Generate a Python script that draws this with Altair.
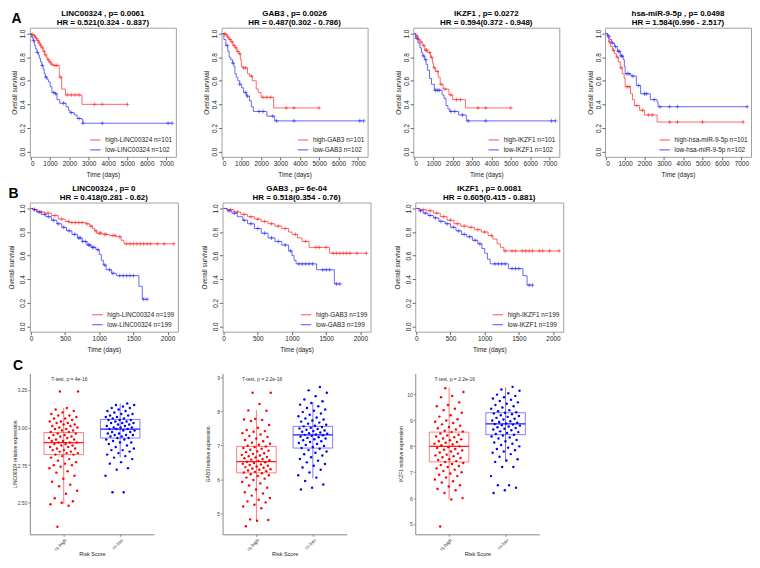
import altair as alt
import pandas as pd
import numpy as np

FONT = "Liberation Sans"
RED = "#FF2424"
BLUE = "#2424FF"

# ---------------- Row A : TCGA-like survival (0-7300 days) ----------------
A1_gene, A1_p, A1_hr = "LINC00324", "0.0061", "0.521(0.324 - 0.837)"
A1_hi_t = [0, 60, 150, 250, 330, 420, 500, 560, 640, 720, 800, 880, 950, 1050, 1150, 1480, 1600, 1800, 2650]
A1_hi_s = [1.0, 0.99, 0.98, 0.96, 0.94, 0.92, 0.90, 0.88, 0.85, 0.82, 0.80, 0.78, 0.76, 0.74, 0.73, 0.63, 0.53, 0.48, 0.40]
A1_hi_end = 5000
A1_hi_c = [100, 200, 300, 380, 450, 520, 600, 700, 780, 900, 1000, 1100, 1250, 1350, 1550, 1900, 2100, 2300, 2500, 3300, 3700, 5000]
A1_lo_t = [0, 50, 120, 200, 260, 330, 400, 450, 510, 580, 640, 700, 760, 850, 920, 1010, 1100, 1250, 1360, 1500, 1830, 1950, 2030, 2250, 2400, 2650, 2700]
A1_lo_s = [1.0, 0.97, 0.94, 0.90, 0.87, 0.84, 0.82, 0.79, 0.76, 0.73, 0.70, 0.66, 0.63, 0.61, 0.59, 0.55, 0.50, 0.49, 0.44, 0.41, 0.38, 0.35, 0.33, 0.31, 0.28, 0.27, 0.24]
A1_lo_end = 7300
A1_lo_c = [150, 350, 600, 800, 1200, 1300, 1700, 2100, 2500, 2700, 3700, 7100, 7300]

A2_gene, A2_p, A2_hr = "GAB3", "0.0026", "0.487(0.302 - 0.786)"
A2_hi_t = [0, 150, 250, 350, 450, 550, 650, 750, 850, 930, 980, 1050, 1300, 1400, 1550, 1750, 1850, 2000, 2650]
A2_hi_s = [1.0, 0.99, 0.97, 0.95, 0.93, 0.90, 0.88, 0.85, 0.83, 0.78, 0.72, 0.71, 0.66, 0.64, 0.60, 0.53, 0.50, 0.46, 0.37]
A2_hi_end = 5000
A2_hi_c = [100, 200, 300, 400, 500, 600, 700, 800, 900, 1100, 1200, 1500, 2100, 2300, 2500, 3300, 3700, 5000]
A2_lo_t = [0, 80, 180, 280, 350, 430, 520, 600, 650, 720, 800, 900, 1000, 1100, 1250, 1400, 1500, 1600, 2300, 2700]
A2_lo_s = [1.0, 0.95, 0.90, 0.85, 0.80, 0.78, 0.75, 0.72, 0.66, 0.63, 0.60, 0.57, 0.54, 0.50, 0.47, 0.43, 0.38, 0.34, 0.30, 0.26]
A2_lo_end = 7300
A2_lo_c = [250, 550, 900, 1200, 1300, 1900, 2100, 2600, 2800, 3700, 7100, 7300]

A3_gene, A3_p, A3_hr = "IKZF1", "0.0272", "0.594(0.372 - 0.948)"
A3_hi_t = [0, 100, 200, 300, 420, 550, 700, 850, 950, 1000, 1100, 1250, 1350, 1500, 1800, 2000, 2650]
A3_hi_s = [1.0, 0.98, 0.95, 0.93, 0.90, 0.86, 0.84, 0.80, 0.75, 0.71, 0.68, 0.63, 0.57, 0.53, 0.48, 0.44, 0.37]
A3_hi_end = 5000
A3_hi_c = [150, 250, 350, 500, 600, 650, 800, 900, 1050, 1200, 1400, 1600, 1900, 2200, 2400, 3300, 3700, 5000]
A3_lo_t = [0, 80, 200, 300, 380, 450, 550, 620, 700, 800, 900, 1050, 1450, 1550, 1650, 1750, 1850, 2300, 2700]
A3_lo_s = [1.0, 0.96, 0.92, 0.88, 0.84, 0.81, 0.78, 0.74, 0.69, 0.62, 0.57, 0.52, 0.48, 0.45, 0.39, 0.36, 0.34, 0.31, 0.26]
A3_lo_end = 7300
A3_lo_c = [150, 500, 600, 1100, 1200, 1300, 1900, 2100, 2500, 2800, 3700, 7100, 7300]

A4_gene, A4_p, A4_hr = "hsa-miR-9-5p", "0.0498", "1.584(0.996 - 2.517)"
A4_hi_t = [0, 80, 150, 250, 350, 450, 550, 650, 750, 850, 950, 1000, 1280, 1380, 1480, 1750, 2000, 2650]
A4_hi_s = [1.0, 0.97, 0.93, 0.89, 0.86, 0.83, 0.80, 0.76, 0.71, 0.66, 0.62, 0.55, 0.49, 0.44, 0.39, 0.35, 0.31, 0.25]
A4_hi_end = 7100
A4_hi_c = [200, 400, 600, 800, 1100, 1200, 1600, 1900, 2200, 2400, 3300, 3700, 5000, 7100]
A4_lo_t = [0, 100, 200, 300, 450, 600, 750, 900, 960, 1000, 1300, 1580, 1800, 2300, 2650, 2700]
A4_lo_s = [1.0, 0.98, 0.95, 0.92, 0.89, 0.85, 0.81, 0.78, 0.72, 0.66, 0.64, 0.56, 0.49, 0.44, 0.42, 0.38]
A4_lo_end = 7300
A4_lo_c = [150, 350, 500, 650, 700, 800, 850, 1100, 1200, 1400, 1700, 2000, 2100, 2500, 2800, 3300, 3700, 7300]

A_n_hi, A_n_lo = 101, 102
A_xticks = [0, 1000, 2000, 3000, 4000, 5000, 6000, 7000]

# ---------------- Row B : validation cohort (0-2100 days) ----------------
B1_gene, B1_p, B1_hr = "LINC00324", "0", "0.418(0.281 - 0.62)"
B1_hi_t = [0, 30, 100, 200, 300, 400, 500, 560, 800, 860, 900, 930, 960, 1050, 1150, 1250, 1320, 1360]
B1_hi_s = [1.0, 0.99, 0.97, 0.96, 0.94, 0.91, 0.89, 0.88, 0.87, 0.85, 0.83, 0.81, 0.79, 0.78, 0.77, 0.76, 0.73, 0.70]
B1_hi_end = 2090
B1_hi_c = [50, 150, 250, 350, 450, 550, 600, 650, 700, 750, 820, 880, 950, 1000, 1020, 1080, 1100, 1200, 1230, 1300,
           1400, 1450, 1500, 1550, 1600, 1650, 1700, 1750, 1850, 1950, 2090]
B1_lo_t = [0, 30, 80, 150, 220, 300, 380, 450, 520, 600, 680, 750, 820, 880, 950, 1000, 1030, 1060, 1100, 1180, 1250, 1580, 1630]
B1_lo_s = [1.0, 0.99, 0.97, 0.95, 0.93, 0.90, 0.87, 0.84, 0.81, 0.78, 0.75, 0.72, 0.69, 0.67, 0.65, 0.61, 0.56, 0.52, 0.48, 0.45, 0.43, 0.34, 0.23]
B1_lo_end = 1700
B1_lo_c = [50, 120, 200, 260, 330, 400, 480, 560, 640, 700, 720, 760, 800, 840, 860, 900, 920, 980, 1080, 1150,
           1200, 1300, 1350, 1400, 1450, 1500, 1650, 1700]

B2_gene, B2_p, B2_hr = "GAB3", "6e-04", "0.518(0.354 - 0.76)"
B2_hi_t = [0, 50, 150, 250, 350, 450, 550, 650, 750, 850, 950, 1000, 1080, 1150, 1250, 1550]
B2_hi_s = [1.0, 0.99, 0.97, 0.95, 0.93, 0.91, 0.89, 0.87, 0.85, 0.83, 0.80, 0.78, 0.75, 0.72, 0.67, 0.62]
B2_hi_end = 2090
B2_hi_c = [100, 200, 300, 400, 500, 600, 700, 800, 900, 1050, 1200, 1350, 1400, 1500, 1600, 1650, 1700, 1750, 1800,
           1850, 1950, 2090]
B2_lo_t = [0, 50, 120, 200, 280, 350, 450, 550, 650, 750, 850, 950, 1000, 1030, 1060, 1360, 1620]
B2_lo_s = [1.0, 0.98, 0.96, 0.93, 0.90, 0.87, 0.83, 0.79, 0.75, 0.72, 0.69, 0.64, 0.60, 0.56, 0.53, 0.48, 0.36]
B2_lo_end = 1700
B2_lo_c = [80, 160, 300, 400, 500, 600, 700, 800, 900, 980, 1100, 1150, 1200, 1250, 1300, 1450, 1500, 1550, 1650, 1700]

B3_gene, B3_p, B3_hr = "IKZF1", "0.0081", "0.605(0.415 - 0.881)"
B3_hi_t = [0, 50, 150, 250, 350, 450, 550, 650, 750, 850, 950, 1050, 1120, 1180, 1230, 1280]
B3_hi_s = [1.0, 0.99, 0.98, 0.96, 0.93, 0.90, 0.87, 0.85, 0.84, 0.82, 0.80, 0.77, 0.74, 0.70, 0.67, 0.64]
B3_hi_end = 2090
B3_hi_c = [100, 200, 300, 400, 500, 600, 700, 800, 900, 1000, 1100, 1300, 1400, 1450, 1550, 1600, 1650, 1700, 1800,
           1850, 1950, 2090]
B3_lo_t = [0, 40, 100, 170, 250, 330, 420, 500, 580, 660, 740, 820, 900, 960, 1000, 1040, 1080, 1350, 1560, 1620]
B3_lo_s = [1.0, 0.98, 0.96, 0.94, 0.92, 0.89, 0.87, 0.84, 0.81, 0.78, 0.76, 0.73, 0.70, 0.66, 0.62, 0.57, 0.53, 0.49, 0.43, 0.35]
B3_lo_end = 1700
B3_lo_c = [60, 130, 200, 280, 360, 450, 540, 620, 700, 780, 860, 930, 1150, 1200, 1250, 1300, 1400, 1450, 1500, 1650, 1700]

B_n_hi, B_n_lo = 199, 199
B_xticks = [0, 500, 1000, 1500, 2000]

# ---------------- Row C : expression by risk group ----------------
C_groups = ["rs-high", "rs-low"]

C1_gene, C1_ptxt = "LINC00324", "T-test, p = 4e-16"
C1_red = [3.24, 3.24, 3.13, 3.12, 3.11, 3.10, 3.09, 3.08, 3.08, 3.07, 3.06, 3.06, 3.05, 3.04, 3.04, 3.03, 3.03,
          3.02, 3.02, 3.01, 3.01, 3.00, 3.00, 2.99, 2.99, 2.98, 2.98, 2.97, 2.97, 2.96, 2.96, 2.95, 2.95, 2.94,
          2.94, 2.93, 2.93, 2.92, 2.92, 2.91, 2.91, 2.90, 2.90, 2.90, 2.89, 2.89, 2.88, 2.88, 2.87, 2.87, 2.86,
          2.86, 2.85, 2.85, 2.84, 2.84, 2.83, 2.83, 2.82, 2.82, 2.81, 2.80, 2.79, 2.78, 2.77, 2.76, 2.75, 2.75,
          2.74, 2.73, 2.71, 2.70, 2.68, 2.66, 2.64, 2.62, 2.61, 2.58, 2.56, 2.53, 2.51, 2.50, 2.49, 2.48, 2.34]
C1_blue = [3.16, 3.15, 3.15, 3.14, 3.13, 3.13, 3.12, 3.11, 3.11, 3.10, 3.09, 3.09, 3.08, 3.08, 3.07, 3.07, 3.06,
           3.06, 3.05, 3.05, 3.05, 3.04, 3.04, 3.03, 3.03, 3.03, 3.02, 3.02, 3.01, 3.01, 3.00, 3.00, 3.00, 2.99,
           2.99, 2.99, 2.98, 2.98, 2.97, 2.97, 2.96, 2.96, 2.95, 2.95, 2.95, 2.94, 2.94, 2.93, 2.93, 2.92, 2.92,
           2.91, 2.90, 2.90, 2.89, 2.88, 2.87, 2.86, 2.85, 2.85, 2.84, 2.83, 2.82, 2.81, 2.80, 2.79, 2.77, 2.76,
           2.73, 2.72, 2.68, 2.57, 2.57]
C1_red_box = [2.49, 2.82, 2.90, 2.967, 3.13]     # whisker low, q1, median, q3, whisker high
C1_blue_box = [2.80, 2.93, 2.99, 3.054, 3.16]
C1_ydom = [2.29, 3.36]
C1_yticks = [2.50, 2.75, 3.00, 3.25]

C2_gene, C2_ptxt = "GAB3", "T-test, p = 2.2e-16"
C2_red = [8.55, 8.55, 8.22, 8.03, 8.02, 7.78, 7.76, 7.75, 7.72, 7.60, 7.52, 7.45, 7.42, 7.40, 7.36, 7.32, 7.28,
          7.25, 7.20, 7.16, 7.12, 7.08, 7.05, 7.02, 6.99, 6.97, 6.95, 6.92, 6.90, 6.87, 6.84, 6.82, 6.80, 6.77,
          6.75, 6.72, 6.70, 6.68, 6.66, 6.64, 6.62, 6.60, 6.58, 6.56, 6.54, 6.52, 6.50, 6.48, 6.46, 6.44, 6.42,
          6.40, 6.38, 6.36, 6.34, 6.32, 6.30, 6.28, 6.26, 6.24, 6.22, 6.20, 6.18, 6.15, 6.12, 6.10, 6.05, 6.02,
          5.98, 5.92, 5.88, 5.82, 5.75, 5.70, 5.62, 5.58, 5.52, 5.45, 5.40, 5.35, 5.32, 5.25, 5.20, 5.15, 4.82,
          4.80, 4.78, 4.62]
C2_blue = [8.72, 8.62, 8.55, 8.45, 8.35, 8.30, 8.25, 8.20, 8.15, 8.10, 8.06, 8.02, 7.98, 7.94, 7.90, 7.86, 7.82,
           7.79, 7.76, 7.73, 7.70, 7.67, 7.64, 7.61, 7.58, 7.56, 7.54, 7.52, 7.50, 7.48, 7.46, 7.44, 7.42, 7.40,
           7.38, 7.36, 7.34, 7.32, 7.31, 7.30, 7.28, 7.26, 7.24, 7.22, 7.20, 7.18, 7.15, 7.12, 7.10, 7.07, 7.04,
           7.01, 6.98, 6.95, 6.92, 6.90, 6.86, 6.82, 6.78, 6.74, 6.70, 6.65, 6.60, 6.55, 6.50, 6.45, 6.40, 6.35,
           6.28, 6.20, 6.12, 6.05, 5.95, 5.85, 5.75, 5.70]
C2_red_box = [4.78, 6.19, 6.52, 6.97, 8.04]
C2_blue_box = [6.03, 6.92, 7.31, 7.56, 8.28]
C2_ydom = [4.38, 9.12]
C2_yticks = [5, 6, 7, 8, 9]

C3_gene, C3_ptxt = "IKZF1", "T-test, p = 2.2e-16"
C3_red = [10.25, 10.1, 9.95, 9.9, 9.7, 9.6, 9.55, 9.45, 9.4, 9.3, 9.2, 9.15, 9.05, 9.0, 8.95, 8.9, 8.85, 8.8,
          8.75, 8.7, 8.65, 8.6, 8.57, 8.55, 8.5, 8.45, 8.42, 8.38, 8.35, 8.3, 8.27, 8.24, 8.2, 8.17, 8.14, 8.1,
          8.07, 8.04, 8.0, 7.97, 7.94, 7.9, 7.87, 7.84, 7.8, 7.76, 7.72, 7.68, 7.65, 7.62, 7.58, 7.55, 7.5, 7.47,
          7.43, 7.4, 7.36, 7.32, 7.28, 7.24, 7.2, 7.15, 7.1, 7.05, 7.0, 6.95, 6.9, 6.85, 6.8, 6.72, 6.65, 6.6,
          6.5, 6.45, 6.35, 6.3, 6.2, 6.0, 5.95, 4.9]
C3_blue = [10.3, 10.2, 10.15, 10.05, 10.0, 9.95, 9.9, 9.85, 9.8, 9.75, 9.7, 9.65, 9.6, 9.55, 9.5, 9.45, 9.4, 9.36,
           9.32, 9.3, 9.27, 9.24, 9.2, 9.17, 9.14, 9.1, 9.07, 9.04, 9.0, 8.97, 8.94, 8.91, 8.88, 8.86, 8.84, 8.82,
           8.8, 8.77, 8.74, 8.71, 8.68, 8.65, 8.62, 8.58, 8.55, 8.52, 8.48, 8.45, 8.42, 8.38, 8.34, 8.3, 8.25,
           8.2, 8.15, 8.1, 8.05, 8.0, 7.95, 7.9, 7.85, 7.8, 7.75, 7.7, 7.6, 7.5, 7.45, 7.4, 7.2, 7.2, 6.85, 6.5,
           6.5, 6.4, 6.3, 6.2]
C3_red_box = [5.95, 7.40, 8.00, 8.55, 10.28]
C3_blue_box = [7.39, 8.45, 8.87, 9.30, 10.28]
C3_ydom = [4.6, 10.82]
C3_yticks = [5, 6, 7, 8, 9, 10]

# ---------------- layout constants ----------------
A_W, A_H = 147, 130
B_W, B_H = 149, 130
C_W, C_H = 125, 162
LBL = "#222222"


def step_value(t, s, c):
    i = int(np.searchsorted(np.asarray(t), c, side="right")) - 1
    return s[max(i, 0)]


def km_panel(gene, p, hr, n_hi, n_lo, hi, lo, xdom, xticks, w, h, y_title_pad):
    lab_hi = f"high-{gene} n={n_hi}"
    lab_lo = f"low-{gene} n={n_lo}"
    line_rows, cens_rows = [], []
    for lab, (t, s, end, cens) in ((lab_hi, hi), (lab_lo, lo)):
        for a, b in zip(list(t) + [end], list(s) + [s[-1]]):
            line_rows.append({"time": a, "surv": b, "grp": lab})
        for c in cens:
            cens_rows.append({"time": c, "surv": step_value(t, s, c), "grp": lab})
    lines = pd.DataFrame(line_rows)
    cens = pd.DataFrame(cens_rows)

    cscale = alt.Scale(domain=[lab_hi, lab_lo], range=[RED, BLUE])
    color = alt.Color(
        "grp:N", scale=cscale,
        legend=alt.Legend(
            title=None, orient="bottom-right", symbolType="stroke", symbolSize=110,
            symbolStrokeWidth=1, labelFontSize=6.5, labelFont=FONT, labelColor=LBL,
            rowPadding=0, offset=3, padding=0, labelLimit=300, symbolOpacity=0.8,
        ),
    )
    xaxis = alt.Axis(values=xticks, format="d", labelOverlap=False, title="Time (days)", grid=False,
                     domain=False, tickColor="#666", tickSize=3, labelFontSize=6.5, labelColor=LBL,
                     labelPadding=1, titleFontSize=6.5, titleFontWeight="normal",
                     titleColor=LBL, titlePadding=4, labelFont=FONT, titleFont=FONT)
    yaxis = alt.Axis(values=[0, 0.2, 0.4, 0.6, 0.8, 1.0], format=".1f", labelOverlap=False,
                     title="Overall survival", grid=False, domain=False, tickColor="#666", tickSize=3,
                     labelAngle=270, labelAlign="center", labelBaseline="bottom", labelFontSize=6.5,
                     labelColor=LBL, labelPadding=1, titleFontSize=6.5, titleFontWeight="normal",
                     titleColor=LBL, titlePadding=y_title_pad, minExtent=9, maxExtent=9,
                     labelFont=FONT, titleFont=FONT)
    xs = alt.Scale(domain=xdom, nice=False, zero=False)
    ys = alt.Scale(domain=[-0.045, 1.05], nice=False, zero=False)
    x = alt.X("time:Q", scale=xs, axis=xaxis)
    y = alt.Y("surv:Q", scale=ys, axis=yaxis)
    line = alt.Chart(lines).mark_line(interpolate="step-after", strokeWidth=0.8, opacity=0.85).encode(
        x=x, y=y, color=color)
    pts = alt.Chart(cens).mark_point(shape="M-1,0L1,0M0,-1L0,1", filled=False, size=16,
                                     strokeWidth=0.7, opacity=0.85).encode(
        x=x, y=y, color=alt.Color("grp:N", scale=cscale, legend=None))
    return alt.layer(line, pts).properties(
        width=w, height=h,
        title=alt.TitleParams(text=[f"{gene} , p= {p}", f"HR =  {hr}"], fontSize=8, fontWeight="bold",
                              font=FONT, anchor="middle", frame="group", offset=1, lineHeight=8.5,
                              color="black"),
        view=alt.ViewBackground(stroke="#a0a0a0", strokeWidth=1),
    )


def box_panel(gene, ptxt, red, blue, red_box, blue_box, ydom, yticks, yfmt):
    prow = []
    for gi, (g, vals) in enumerate(((C_groups[0], red), (C_groups[1], blue)), start=1):
        for k, v in enumerate(vals):
            jit = ((k * 0.6180339887 + gi * 0.37) % 1.0 - 0.5) * 0.52
            prow.append({"x": gi + jit, "val": v, "grp": g})
    pts = pd.DataFrame(prow)
    brow = []
    for gi, (g, b) in enumerate(((C_groups[0], red_box), (C_groups[1], blue_box)), start=1):
        brow.append({"grp": g, "xc": gi, "xa": gi - 0.35, "xb": gi + 0.35,
                     "lo": b[0], "q1": b[1], "med": b[2], "q3": b[3], "hi": b[4]})
    boxes = pd.DataFrame(brow)

    cscale = alt.Scale(domain=C_groups, range=["#FF0000", "#0000FF"])
    xscale = alt.Scale(domain=[0.4, 2.6], nice=False, zero=False)
    yscale = alt.Scale(domain=ydom, nice=False, zero=False)
    xaxis = alt.Axis(values=[1, 2], labelExpr="datum.value == 1 ? 'rs-high' : 'rs-low'", labelAngle=315,
                     labelAlign="right", labelBaseline="top", labelFontSize=5, labelColor="#444",
                     title="Risk Score", titleFontSize=5.5, titleFontWeight="normal", titleColor="#222",
                     titlePadding=0, grid=False, domainColor="#888", tickColor="#888", tickSize=2,
                     labelPadding=1, labelFont=FONT, titleFont=FONT, labelOverlap=False)
    yaxis = alt.Axis(values=yticks, format=yfmt, labelFontSize=5, labelColor="#444", labelOverlap=False,
                     title=f"{gene} relative expression", titleFontSize=5, titleFontWeight="normal",
                     titleColor="#222", titlePadding=3, grid=False, domainColor="#888", tickColor="#888",
                     tickSize=2, labelPadding=1, minExtent=9, maxExtent=9, labelFont=FONT, titleFont=FONT)

    def X(f):
        return alt.X(f, scale=xscale, axis=xaxis)

    def Y(f):
        return alt.Y(f, scale=yscale, axis=yaxis)

    col = alt.Color("grp:N", scale=cscale, legend=None)
    whisk = alt.Chart(boxes).mark_rule(strokeWidth=0.9, opacity=0.6).encode(
        x=X("xc:Q"), y=Y("lo:Q"), y2="hi:Q", color=col)
    box = alt.Chart(boxes).mark_rect(fillOpacity=0, strokeWidth=1, strokeOpacity=0.5).encode(
        x=X("xa:Q"), x2="xb:Q", y=Y("q1:Q"), y2="q3:Q",
        stroke=alt.Stroke("grp:N", scale=cscale, legend=None))
    med = alt.Chart(boxes).mark_rule(strokeWidth=1.3, opacity=0.9).encode(
        x=X("xa:Q"), x2="xb:Q", y=Y("med:Q"), color=col)
    dots = alt.Chart(pts).mark_circle(size=6, opacity=1).encode(
        x=X("x:Q"), y=Y("val:Q"), color=col)
    txt = alt.Chart(pd.DataFrame({"t": [ptxt], "x": [1.1]})).mark_text(
        fontSize=5, font=FONT, color="#333", baseline="top").encode(text="t:N", x=X("x:Q"), y=alt.value(4))
    return alt.layer(whisk, box, med, dots, txt).properties(width=C_W, height=C_H,
                                                           view=alt.ViewBackground(stroke=None))


def row_letter(letter, offset):
    return alt.TitleParams(text=letter, anchor="start", frame="bounds", fontSize=14, fontWeight="bold",
                           font=FONT, color="black", offset=offset, orient="top")


A_dom = [-40, 7500]
B_dom = [-16, 2150]

rowA = alt.hconcat(
    km_panel(A1_gene, A1_p, A1_hr, A_n_hi, A_n_lo, (A1_hi_t, A1_hi_s, A1_hi_end, A1_hi_c),
             (A1_lo_t, A1_lo_s, A1_lo_end, A1_lo_c), A_dom, A_xticks, A_W, A_H, 3),
    km_panel(A2_gene, A2_p, A2_hr, A_n_hi, A_n_lo, (A2_hi_t, A2_hi_s, A2_hi_end, A2_hi_c),
             (A2_lo_t, A2_lo_s, A2_lo_end, A2_lo_c), A_dom, A_xticks, A_W, A_H, 3),
    km_panel(A3_gene, A3_p, A3_hr, A_n_hi, A_n_lo, (A3_hi_t, A3_hi_s, A3_hi_end, A3_hi_c),
             (A3_lo_t, A3_lo_s, A3_lo_end, A3_lo_c), A_dom, A_xticks, A_W, A_H, 3),
    km_panel(A4_gene, A4_p, A4_hr, A_n_hi, A_n_lo, (A4_hi_t, A4_hi_s, A4_hi_end, A4_hi_c),
             (A4_lo_t, A4_lo_s, A4_lo_end, A4_lo_c), A_dom, A_xticks, A_W, A_H, 3),
    spacing=26,
    title=row_letter("A", -16),
).resolve_scale(color="independent").resolve_legend(color="independent")

rowB = alt.hconcat(
    km_panel(B1_gene, B1_p, B1_hr, B_n_hi, B_n_lo, (B1_hi_t, B1_hi_s, B1_hi_end, B1_hi_c),
             (B1_lo_t, B1_lo_s, B1_lo_end, B1_lo_c), B_dom, B_xticks, B_W, B_H, 6),
    km_panel(B2_gene, B2_p, B2_hr, B_n_hi, B_n_lo, (B2_hi_t, B2_hi_s, B2_hi_end, B2_hi_c),
             (B2_lo_t, B2_lo_s, B2_lo_end, B2_lo_c), B_dom, B_xticks, B_W, B_H, 6),
    km_panel(B3_gene, B3_p, B3_hr, B_n_hi, B_n_lo, (B3_hi_t, B3_hi_s, B3_hi_end, B3_hi_c),
             (B3_lo_t, B3_lo_s, B3_lo_end, B3_lo_c), B_dom, B_xticks, B_W, B_H, 6),
    spacing=22,
    title=row_letter("B", -16),
).resolve_scale(color="independent").resolve_legend(color="independent")

rowC = alt.hconcat(
    box_panel(C1_gene, C1_ptxt, C1_red, C1_blue, C1_red_box, C1_blue_box, C1_ydom, C1_yticks, ".2f"),
    box_panel(C2_gene, C2_ptxt, C2_red, C2_blue, C2_red_box, C2_blue_box, C2_ydom, C2_yticks, "d"),
    box_panel(C3_gene, C3_ptxt, C3_red, C3_blue, C3_red_box, C3_blue_box, C3_ydom, C3_yticks, "d"),
    spacing=52,
    title=row_letter("C", 0),
).resolve_scale(color="independent", stroke="independent", x="independent", y="independent")

chart = alt.vconcat(rowA, rowB, rowC, spacing=6).resolve_scale(
    color="independent").resolve_legend(color="independent").properties(padding=0).configure(
    font=FONT).configure_view(stroke="#a0a0a0")

chart.save("out.html", embed_options={"renderer": "svg", "actions": False})
